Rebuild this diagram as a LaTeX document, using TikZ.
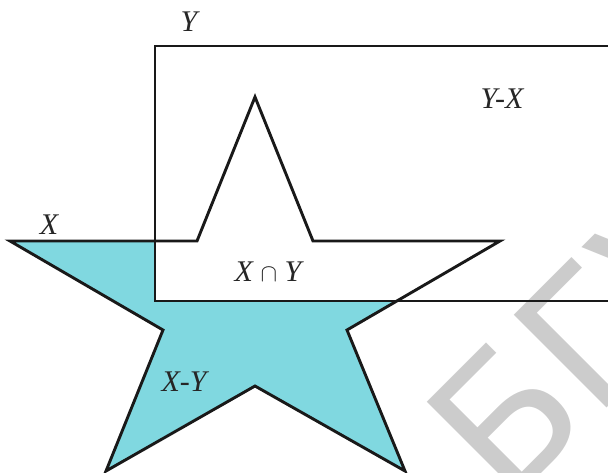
\documentclass[tikz,border=0pt]{standalone}
\usepackage{fontspec}
\setmainfont{Liberation Serif}
\newfontfamily\markfont{DejaVu Sans}
\usepackage{xcolor}
\definecolor{setcyan}{HTML}{80D8E0}

\begin{document}
\begin{tikzpicture}[
    x=1pt, y=-1pt,
    outline/.style={
      draw=black!90,
      line width=2.9pt,
      line join=miter
    },
    setlabel/.style={
      font=\fontsize{30}{30}\selectfont\itshape,
      text=black!85,
      inner sep=0pt
    },
    watermark/.style={
      font=\markfont\fontsize{180}{180}\selectfont,
      text=black!20,
      inner sep=0pt,
      rotate=45,
      anchor=base west
    }
  ]

    \clip (0,0) rectangle (608,472);

    % Star X
    \coordinate (top)   at (255,97);
    \coordinate (ti)    at (313,241);
    \coordinate (right) at (500,241);
    \coordinate (ri)    at (347,330);
    \coordinate (br)    at (405,471);
    \coordinate (bi)    at (255,386);
    \coordinate (bl)    at (106,471);
    \coordinate (li)    at (163,330);
    \coordinate (left)  at (10,241);
    \coordinate (tl)    at (197,241);

    % Rectangle Y
    \coordinate (ynw) at (155,46);
    \coordinate (yse) at (640,301);

    % X-Y filled, X and Y white
    \fill[setcyan] (top) -- (ti) -- (right) -- (ri) -- (br) -- (bi)
      -- (bl) -- (li) -- (left) -- (tl) -- cycle;
    \fill[white] (ynw) rectangle (yse);

    % Watermark under the outlines
    \node[watermark] (mark) at (507,508) {БГУ};

    % Outlines
    \draw[outline] (top) -- (ti) -- (right) -- (ri) -- (br) -- (bi)
      -- (bl) -- (li) -- (left) -- (tl) -- cycle;
    \draw[outline] (ynw) rectangle (yse);

    % Labels
    \node[setlabel] (ylabel) at (189,22) {Y};
    \node[setlabel] (xlabel) at (49,225) {X};
    \node[setlabel] (yminusx) at (502,99) {Y-X};
    \node[setlabel] (xcapy) at (268,272) {X {\upshape$\cap$} Y};
    \node[setlabel] (xminusy) at (184,382) {X-Y};

  \end{tikzpicture}
\end{document}
